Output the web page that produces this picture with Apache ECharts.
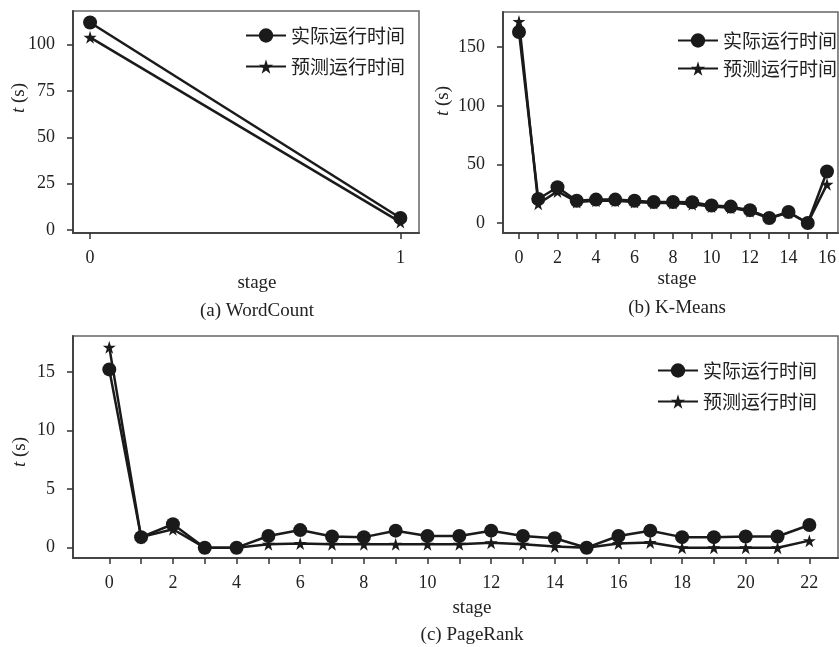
<!DOCTYPE html>
<html>

<head>
  <meta charset="UTF-8">
  <title>Stage run time</title>
</head>

<body style="margin:0">
  <div id="main" style="width: 839px; height: 647px;"></div>
  <script src="https://cdn.jsdelivr.net/npm/echarts@6.0.0/dist/echarts.min.js"></script>
  <script>
    // (a) WordCount
    const stagesA = [0, 1];
    const actualA = [112, 6.5];
    const predA = [104, 4.3];
    const yTicksA = [0, 25, 50, 75, 100];

    // (b) K-Means
    const stagesB = [0, 1, 2, 3, 4, 5, 6, 7, 8, 9, 10, 11, 12, 13, 14, 15, 16];
    const actualB = [163, 20.5, 30.5, 19, 20, 20, 19, 18, 18, 17.7, 15, 14, 11, 4.3, 9.4, 0, 44];
    const predB = [172, 16.5, 27, 18, 19, 19, 18, 17, 17, 16, 14, 13, 10, 4, 9, 0, 33];
    const yTicksB = [0, 50, 100, 150];
    const xLabelsB = [0, 2, 4, 6, 8, 10, 12, 14, 16];

    // (c) PageRank
    const stagesC = [0, 1, 2, 3, 4, 5, 6, 7, 8, 9, 10, 11, 12, 13, 14, 15, 16, 17, 18, 19, 20, 21, 22];
    const actualC = [15.2, 0.9, 2.0, 0, 0, 1.0, 1.5, 0.95, 0.9, 1.45, 1.0, 1.0, 1.45, 1.0, 0.8, 0, 1.0, 1.45, 0.9, 0.9, 0.95, 0.95, 1.93];
    const predC = [17.1, 0.9, 1.57, 0, 0, 0.3, 0.35, 0.3, 0.3, 0.3, 0.3, 0.3, 0.43, 0.3, 0.1, 0, 0.35, 0.45, 0, 0, 0, 0, 0.6];
    const yTicksC = [0, 5, 10, 15];
    const xLabelsC = [0, 2, 4, 6, 8, 10, 12, 14, 16, 18, 20, 22];

    const NAME_ACTUAL = '实际运行时间';
    const NAME_PRED = '预测运行时间';
    const STAR = 'path://M50,0 L61,35 L98,35 L68,57 L79,91 L50,70 L21,91 L32,57 L2,35 L39,35 Z';
    const SERIF = '"Liberation Serif", "Times New Roman", serif';
    const CJK = '"Noto Sans CJK SC", sans-serif';
    const INK = '#1a1a1a';

    const pairs = (xs, ys) => xs.map((x, i) => [x, ys[i]]);

    function xAxisFor(gridIndex, min, max, ticks, labels) {
      return {
        type: 'value', gridIndex, min, max,
        axisLine: { onZero: false, lineStyle: { color: '#444', width: 2 } },
        axisTick: { length: 6, lineStyle: { color: '#333', width: 1.5 }, customValues: ticks },
        axisLabel: { color: '#222', fontFamily: SERIF, fontSize: 18, margin: 16, customValues: labels },
        splitLine: { show: false }
      };
    }

    function yAxisFor(gridIndex, min, max, ticks) {
      return {
        type: 'value', gridIndex, min, max,
        axisLine: { show: true, onZero: false, lineStyle: { color: '#444', width: 2 } },
        axisTick: { show: true, length: 6, lineStyle: { color: '#333', width: 1.5 }, customValues: ticks },
        axisLabel: { color: '#222', fontFamily: SERIF, fontSize: 18, margin: 18, customValues: ticks },
        splitLine: { show: false }
      };
    }

    function seriesFor(idx, xs, actual, pred) {
      return [{
        name: NAME_ACTUAL, type: 'line', xAxisIndex: idx, yAxisIndex: idx,
        data: pairs(xs, actual), symbol: 'circle', symbolSize: 14, z: 3,
        itemStyle: { color: INK }, lineStyle: { color: INK, width: 2.5 }
      }, {
        name: NAME_PRED, type: 'line', xAxisIndex: idx, yAxisIndex: idx,
        data: pairs(xs, pred), symbol: STAR, symbolSize: 13, z: 2,
        itemStyle: { color: INK }, lineStyle: { color: INK, width: 2.5 }
      }];
    }

    function legendAt(left, top, gap) {
      return {
        left, top, orient: 'vertical', itemWidth: 40, itemHeight: 18, itemGap: gap,
        data: [NAME_ACTUAL, NAME_PRED],
        textStyle: { fontFamily: CJK, fontSize: 19, color: '#222' }
      };
    }

    function label(x, y, text, rotate) {
      return {
        type: 'text', x, y, rotation: rotate ? Math.PI / 2 : 0,
        style: {
          text, fill: '#222', font: '19px ' + SERIF,
          align: 'center', verticalAlign: 'middle',
          rich: { i: { fontStyle: 'italic', fontFamily: SERIF, fontSize: 19 } }
        }
      };
    }

    const gridStyle = { show: true, borderColor: '#666', borderWidth: 1.5, backgroundColor: '#fff' };

    const chart = echarts.init(document.getElementById('main'));
    chart.setOption({
      animation: false,
      backgroundColor: '#fff',
      grid: [
        Object.assign({ left: 73, top: 11, width: 346, height: 222 }, gridStyle),
        Object.assign({ left: 503, top: 12, width: 335, height: 221 }, gridStyle),
        Object.assign({ left: 73, top: 336, width: 765, height: 222 }, gridStyle)
      ],
      xAxis: [
        xAxisFor(0, -0.055, 1.06, stagesA, stagesA),
        xAxisFor(1, -0.83, 16.57, stagesB, xLabelsB),
        xAxisFor(2, -1.14, 22.9, stagesC, xLabelsC)
      ],
      yAxis: [
        yAxisFor(0, -1.6, 118.2, yTicksA),
        yAxisFor(1, -8.5, 180, yTicksB),
        yAxisFor(2, -0.88, 18.05, yTicksC)
      ],
      legend: [
        legendAt(240, 21, 12),
        legendAt(672, 26, 9),
        legendAt(652, 356, 12)
      ],
      series: [
        ...seriesFor(0, stagesA, actualA, predA),
        ...seriesFor(1, stagesB, actualB, predB),
        ...seriesFor(2, stagesC, actualC, predC)
      ],
      graphic: [
        label(19, 98, '{i|t} (s)', true),
        label(443, 101, '{i|t} (s)', true),
        label(20, 452, '{i|t} (s)', true),
        label(257, 283, 'stage'),
        label(677, 279, 'stage'),
        label(472, 608, 'stage'),
        label(257, 311, '(a) WordCount'),
        label(677, 308, '(b) K-Means'),
        label(472, 635, '(c) PageRank')
      ]
    });
  </script>
</body>

</html>
